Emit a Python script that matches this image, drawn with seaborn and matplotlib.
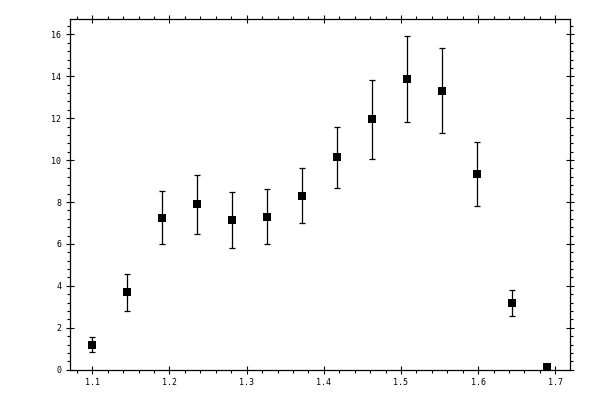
import numpy as np
import pandas as pd
import matplotlib
matplotlib.use("Agg")
import matplotlib.pyplot as plt
import seaborn as sns
from matplotlib.ticker import MultipleLocator

# values
x_vals = [1.1, 1.1453, 1.1907, 1.2360, 1.2814, 1.3267, 1.3720,
          1.4174, 1.4627, 1.5080, 1.5534, 1.5987, 1.6441, 1.6894]
y_vals = [1.16, 3.69, 7.22, 7.89, 7.13, 7.27, 8.27,
          10.13, 11.95, 13.86, 13.28, 9.32, 3.17, 0.11]
err_lo = [0.33, 0.89, 1.22, 1.43, 1.34, 1.29, 1.29,
          1.48, 1.91, 2.06, 2.00, 1.52, 0.61, 0.0]
err_hi = [0.39, 0.86, 1.31, 1.40, 1.33, 1.35, 1.34,
          1.43, 1.86, 2.06, 2.05, 1.53, 0.62, 0.0]

df = pd.DataFrame({"x": x_vals, "y": y_vals, "lo": err_lo, "hi": err_hi})

sns.set_style("ticks")
plt.rcParams['font.family'] = ['DejaVu Sans Mono', 'DejaVu Sans']

fig = plt.figure(figsize=(6, 4), dpi=100)
ax = fig.add_axes([0.1162, 0.0758, 0.8343, 0.876])

# error bars
ax.errorbar(df["x"], df["y"], yerr=[df["lo"], df["hi"]], fmt="none",
            ecolor="black", elinewidth=0.9, capsize=2.0, capthick=0.9)

# square markers
sns.scatterplot(data=df, x="x", y="y", marker="s", s=28, color="black",
                edgecolor="black", linewidth=0, ax=ax, zorder=3)

ax.set_xlim(1.0707, 1.7194)
ax.set_ylim(0, 16.72)
ax.set_xlabel("")
ax.set_ylabel("")

ax.xaxis.set_major_locator(MultipleLocator(0.1))
ax.xaxis.set_minor_locator(MultipleLocator(0.02))
ax.yaxis.set_major_locator(MultipleLocator(2))
ax.yaxis.set_minor_locator(MultipleLocator(0.4))
ax.xaxis.set_major_formatter(plt.FuncFormatter(lambda v, p: f"{v:.1f}"))
ax.yaxis.set_major_formatter(plt.FuncFormatter(lambda v, p: f"{v:.0f}"))

for side in ["top", "right", "bottom", "left"]:
    ax.spines[side].set_visible(True)
    ax.spines[side].set_linewidth(0.9)
    ax.spines[side].set_color("black")

ax.tick_params(which="major", direction="inout", length=6, width=0.8,
               top=True, right=True, labelsize=6, pad=3, colors="black")
ax.tick_params(which="minor", direction="out", length=2.2, width=0.8,
               top=True, right=True, colors="black")

fig.savefig("out.png", dpi=100)
